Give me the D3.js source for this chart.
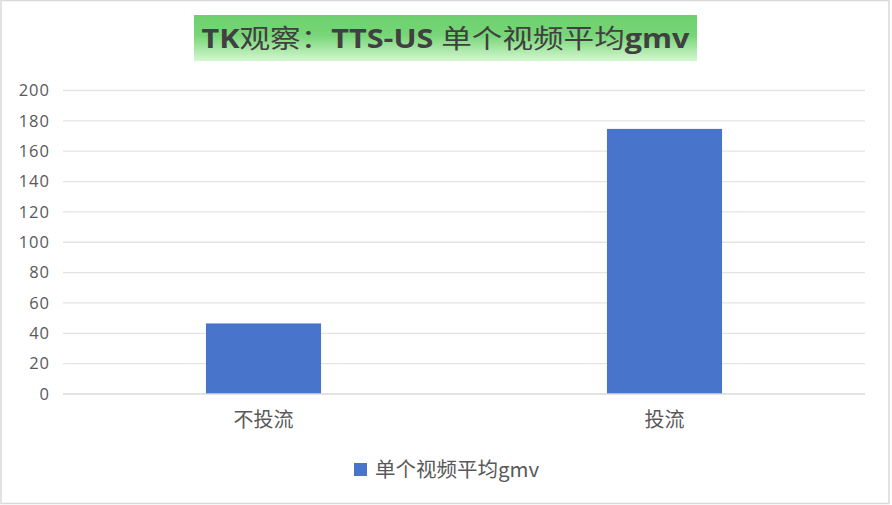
<!DOCTYPE html>
<html><head><meta charset="utf-8">
<script src="https://cdn.jsdelivr.net/npm/d3@7"></script>
<style>body{margin:0;background:#fff}svg{display:block}</style>
</head><body>
<svg id="c" width="892" height="505"></svg>
<script>
const categories = ["不投流", "投流"];
const seriesName = "单个视频平均gmv";
const values = [46.5, 174.7];
const yTicks = [0, 20, 40, 60, 80, 100, 120, 140, 160, 180, 200];
const titleParts = [["TK", true], ["观察：", false], ["TTS-US ", true], ["单个视频平均", false], ["gmv", true]];

const svg = d3.select("#c");
const W = 892, H = 505;
const m = {left: 63, right: 27, top: 90.5, bottom: 111};
const latin = "'Open Sans','Noto Sans CJK SC',sans-serif";
const cjk = "'Noto Sans CJK SC','Open Sans',sans-serif";

svg.append("rect").attr("x",1).attr("y",0.5).attr("width",888).attr("height",503)
  .attr("fill","#fff").attr("stroke","#d9d9d9").attr("stroke-width",1.5);

const defs = svg.append("defs");
const g = defs.append("linearGradient").attr("id","tg").attr("x1",0).attr("y1",0).attr("x2",0).attr("y2",1);
g.append("stop").attr("offset","0").attr("stop-color","#6cd06c");
g.append("stop").attr("offset","0.45").attr("stop-color","#78d678");
g.append("stop").attr("offset","1").attr("stop-color","#d4f7cf");
svg.append("rect").attr("x",194).attr("y",15).attr("width",503).attr("height",46).attr("fill","url(#tg)");
const tt = svg.append("text").attr("x",445.5).attr("y",48).attr("text-anchor","middle")
  .attr("font-size",26).attr("fill","#404040")
  .attr("textLength",488).attr("lengthAdjust","spacingAndGlyphs");
tt.selectAll("tspan").data(titleParts).join("tspan")
  .attr("font-family", d => d[1] ? latin : cjk)
  .attr("font-weight", d => d[1] ? "bold" : "normal")
  .text(d => d[0]);

const x = d3.scaleBand().domain(categories).range([m.left, W - m.right]).paddingInner(0.713).paddingOuter(0.3565);
const y = d3.scaleLinear().domain([0, 200]).range([H - m.bottom, m.top]);

const grid = svg.append("g");
grid.selectAll("line").data(yTicks.filter(t => t > 0)).join("line")
  .attr("x1", m.left).attr("x2", W - m.right)
  .attr("y1", d => y(d)).attr("y2", d => y(d))
  .attr("stroke","#e4e4e4").attr("stroke-width",1.3);

svg.append("g").selectAll("rect").data(values).join("rect")
  .attr("x",(d,i)=>x(categories[i])).attr("width",x.bandwidth())
  .attr("y",d=>y(d)).attr("height",d=>y(0)-y(d)).attr("fill","#4874cb");

svg.append("line").attr("x1",m.left).attr("x2",W-m.right).attr("y1",y(0)).attr("y2",y(0))
  .attr("stroke","#d9d9d9").attr("stroke-width",1.5);

const yAxis = d3.axisLeft(y).tickValues(yTicks).tickSize(0).tickPadding(0);
const ya = svg.append("g").attr("transform",`translate(50,0)`).call(yAxis);
ya.select(".domain").remove();
ya.selectAll("text").attr("font-family",latin).attr("font-size",16.5).attr("letter-spacing",1).attr("fill","#595959");

const xAxis = d3.axisBottom(x).tickSize(0).tickPadding(0);
const xa = svg.append("g").attr("transform",`translate(0,${y(0)+19})`).call(xAxis);
xa.select(".domain").remove();
xa.selectAll("text").attr("font-family",cjk).attr("font-size",20).attr("fill","#595959").attr("dy","0.71em");

const lg = svg.append("g");
lg.append("rect").attr("x",354).attr("y",463).attr("width",13).attr("height",13).attr("fill","#4874cb");
lg.append("text").attr("x",375).attr("y",477).attr("font-family",cjk).attr("font-size",20.5).attr("fill","#595959").text(seriesName);
</script>
</body></html>
